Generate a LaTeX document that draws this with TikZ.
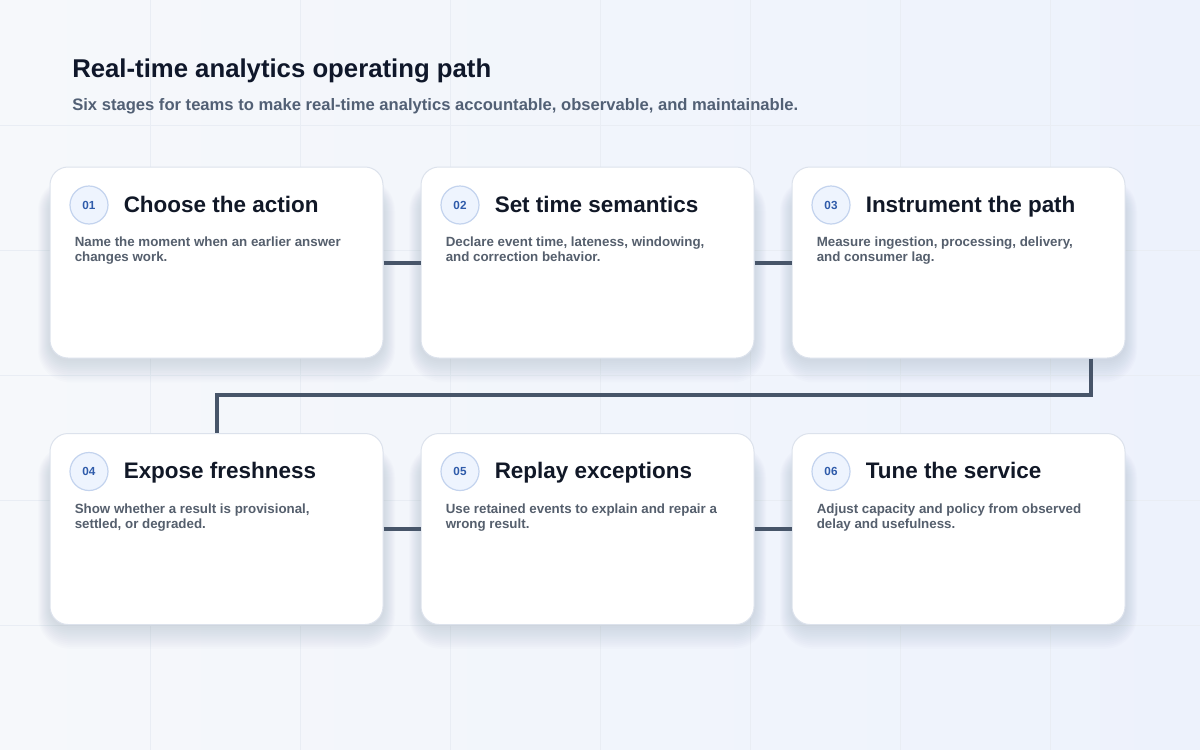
\documentclass[tikz,border=0pt]{standalone}
\usepackage{fontspec}
\setmainfont{Liberation Sans}
\usetikzlibrary{calc}
\definecolor{bgA}{HTML}{F6F8FB}
\definecolor{bgB}{HTML}{EDF2FC}
\definecolor{gridc}{HTML}{E9EDF4}
\definecolor{titlec}{HTML}{0F172A}
\definecolor{subc}{HTML}{526075}
\definecolor{cardtitle}{HTML}{111827}
\definecolor{descc}{HTML}{555F6D}
\definecolor{numc}{HTML}{2F5BAA}
\definecolor{circfill}{HTML}{EEF4FE}
\definecolor{circline}{HTML}{C3D3EE}
\definecolor{cardline}{HTML}{DCE2EC}
\definecolor{connc}{HTML}{475569}
\definecolor{shadowc}{HTML}{7585A8}
\tikzset{
  card/.style={draw=cardline, line width=0.75pt, fill=white, rounded corners=13.5pt,
    minimum width=249.75pt, minimum height=143.25pt, inner sep=0pt},
  cardshadow/.style={fill=shadowc, fill opacity=0.02},
  numcirc/.style={circle, draw=circline, line width=0.9pt, fill=circfill, minimum size=28.5pt, inner sep=0pt,
    font=\fontsize{8.8pt}{10pt}\selectfont\bfseries, text=numc},
  cardtitlefont/.style={anchor=base west, inner sep=0pt, font=\fontsize{16.85pt}{19pt}\selectfont\bfseries, text=cardtitle},
  descfont/.style={anchor=base west, inner sep=0pt, font=\fontsize{10pt}{11pt}\selectfont\bfseries, text=descc},
  conn/.style={draw=connc, line width=3pt},
}
\newcommand\stagecard[7]{%
  \begin{scope}[shift={(#2,#3)}]
    \foreach \i in {1,...,12} {
      \fill[cardshadow, rounded corners={(13.5+0.9*\i)*1pt}]
        ({-166.5-1.0*\i},{-70-1.2*\i}) rectangle ({166.5+1.0*\i},{97+1.9*\i});
    }
  \end{scope}
  \node[card] (#1) at (#2,#3) {};
  \node[numcirc] (#1n) at ($(#1.north west)+(39.5,38.5)$) {#4};
  \node[cardtitlefont] (#1t) at ($(#1.north west)+(74,45.5)$) {#5};
  \node[descfont] (#1a) at ($(#1.north west)+(25,80)$) {#6};
  \node[descfont] (#1b) at ($(#1.north west)+(25,95)$) {#7};
}
\begin{document}
\begin{tikzpicture}[x=0.75pt,y=-0.75pt]
\useasboundingbox (0,0) rectangle (1200,750);
\shade[shading angle=135, left color=bgA, right color=bgB] (0,0) rectangle (1200,750);
\foreach \gx in {150,300,...,1050} \draw[gridc, line width=0.75pt] (\gx,0) -- (\gx,750);
\foreach \gy in {125,250,...,625} \draw[gridc, line width=0.75pt] (0,\gy) -- (1200,\gy);
\node[anchor=base west, inner sep=0pt, font=\fontsize{19.3pt}{23pt}\selectfont\bfseries, text=titlec] (title) at (72,77) {Real-time analytics operating path};
\node[anchor=base west, inner sep=0pt, font=\fontsize{12.45pt}{14pt}\selectfont\bfseries, text=subc] (subtitle) at (72,110) {Six stages for teams to make real-time analytics accountable, observable, and maintainable.};
\coordinate (k1) at (1091,395);
\stagecard{c1}{216.5}{262.5}{01}{Choose the action}{Name the moment when an earlier answer}{changes work.}
\stagecard{c2}{587.5}{262.5}{02}{Set time semantics}{Declare event time, lateness, windowing,}{and correction behavior.}
\stagecard{c3}{958.5}{262.5}{03}{Instrument the path}{Measure ingestion, processing, delivery,}{and consumer lag.}
\stagecard{c4}{216.5}{529}{04}{Expose freshness}{Show whether a result is provisional,}{settled, or degraded.}
\stagecard{c5}{587.5}{529}{05}{Replay exceptions}{Use retained events to explain and repair a}{wrong result.}
\stagecard{c6}{958.5}{529}{06}{Tune the service}{Adjust capacity and policy from observed}{delay and usefulness.}
\draw[conn] (c1.east) -- (c2.west);
\draw[conn] (c2.east) -- (c3.west);
\draw[conn] (c4.east) -- (c5.west);
\draw[conn] (c5.east) -- (c6.west);
\draw[conn] (c3.south -| k1) -- (k1) -| (c4.north);
\end{tikzpicture}
\end{document}
